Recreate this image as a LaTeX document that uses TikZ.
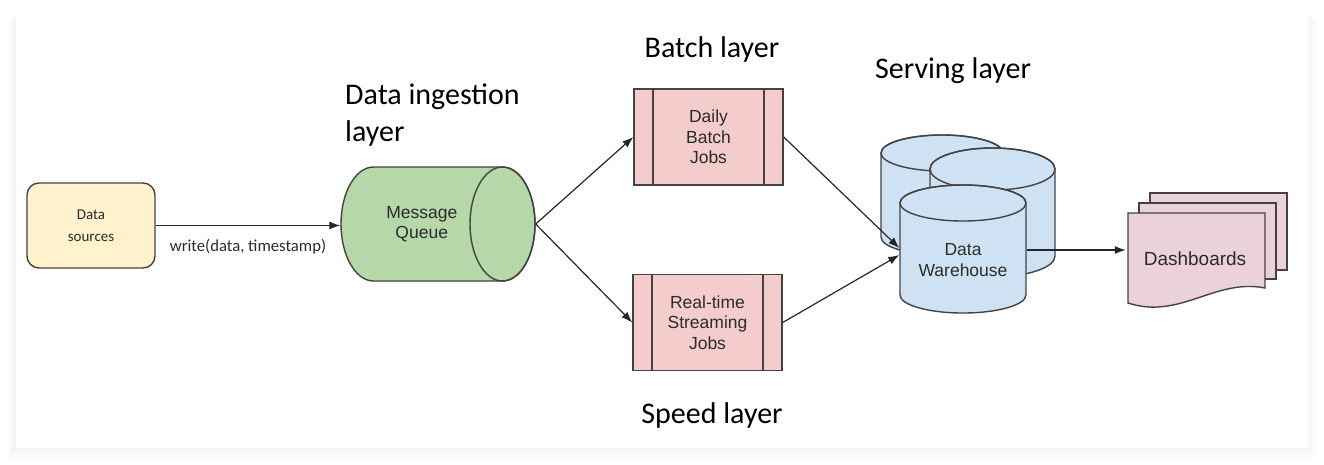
\documentclass[tikz,border=0pt]{standalone}
\usepackage{fontspec}
\setmainfont{Carlito}
\newfontfamily\arialfont{Liberation Sans}
\usetikzlibrary{shapes.geometric,arrows.meta,positioning,calc}

\definecolor{srcfill}{HTML}{FFF2CC}
\definecolor{mqfill}{HTML}{B6D7A8}
\definecolor{jobfill}{HTML}{F4CCCC}
\definecolor{dwfill}{HTML}{CFE2F3}
\definecolor{dashfill}{HTML}{EAD1DC}
\definecolor{edge}{HTML}{434343}
\definecolor{txt}{HTML}{2B2B2B}

% upright cylinder: centre x, top ellipse y, bottom ellipse y, x radius, y radius
\newcommand{\dbcyl}[5]{%
    \filldraw[shapeline, fill=dwfill] (#1-#4,#2) -- (#1-#4,#3)
        arc[start angle=180, end angle=0, x radius=#4, y radius=#5] -- (#1+#4,#2)
        arc[start angle=0, end angle=-180, x radius=#4, y radius=#5] -- cycle;
    \draw[shapeline] (#1,#2) ellipse [x radius=#4, y radius=#5];
}

\begin{document}
\begin{tikzpicture}[
    x=1pt, y=-1pt,
    shapeline/.style={draw=edge, line width=1.4pt},
    box/.style={shapeline, text=txt, align=center, inner sep=0pt,
        font=\arialfont\fontsize{17.5}{20.5}\selectfont},
    source/.style={box, rectangle, rounded corners=12pt, fill=srcfill,
        minimum width=128pt, minimum height=85pt, font=\fontsize{15}{22}\selectfont},
    job/.style={box, rectangle, fill=jobfill, minimum width=149pt, minimum height=96pt,
        path picture={
            \draw[shapeline]
                ([xshift=19pt]path picture bounding box.north west) -- ([xshift=19pt]path picture bounding box.south west)
                ([xshift=-19pt]path picture bounding box.north east) -- ([xshift=-19pt]path picture bounding box.south east);}},
    textonly/.style={box, draw=none, rectangle},
    sheet/.style={shapeline, fill=dashfill},
    layer/.style={font=\fontsize{30}{37}\selectfont, text=black, inner sep=0pt},
    arrow/.style={-{Latex[length=11pt,width=8pt]}, line width=1.2pt, draw=black!85}
]
    % Card
    \fill[white] (0,0) rectangle (1324,464);
    \useasboundingbox (0,0) rectangle (1324,464);
    \fill[black!2] (9,19) rectangle (1316,458);
    \fill[black!4] (12,17) rectangle (1312,453);
    \fill[white] (16,15) rectangle (1308,448);

    % Layer titles
    \node[layer, anchor=base west, align=left] (ingestlbl) at (345,141) {Data ingestion\\layer};
    \node[layer, anchor=base] (batchlbl) at (712,57) {Batch layer};
    \node[layer, anchor=base] (servelbl) at (953,78) {Serving layer};
    \node[layer, anchor=base] (speedlbl) at (712,423) {Speed layer};

    % Source
    \node[source] (src) at (91,225.5) {Data\\sources};

    % Message queue (lying cylinder)
    \filldraw[shapeline, fill=mqfill] (502.5,167) -- (373.5,167)
        arc[start angle=270, end angle=90, x radius=32.5, y radius=57] -- (502.5,281)
        arc[start angle=90, end angle=-90, x radius=32.5, y radius=57] -- cycle;
    \draw[shapeline] (502.5,224) ellipse [x radius=32.5, y radius=57];
    \node[textonly, minimum width=161.5pt, minimum height=114pt] (mq) at (421.75,224) {Message\\Queue};

    % Jobs
    \node[job] (batch) at (708.5,137) {Daily\\Batch\\Jobs};
    \node[job] (stream) at (707.5,322.5) {Real-time\\Streaming\\Jobs};

    % Warehouse
    \dbcyl{942}{153}{237}{61}{18}
    \dbcyl{992.5}{169}{256}{62.5}{21}
    \dbcyl{963}{203}{295}{63}{18}
    \node[textonly, minimum width=126pt, minimum height=106pt] (dw) at (963,260) {Data\\Warehouse};

    % Dashboards
    \draw[sheet] (1150,193) rectangle (1287,270);
    \draw[sheet] (1139,203) rectangle (1276,279);
    \draw[sheet] (1128,213) -- (1265,213) -- (1265,288)
        .. controls (1215,278) and (1180,320) .. (1128,303) -- cycle;
    \node[textonly, font=\arialfont\fontsize{19}{22}\selectfont, minimum width=137pt, minimum height=90pt] (dash) at (1195,259) {Dashboards};

    % Arrows
    \draw[arrow] (src.east) -- (src.east -| mq.west)
        node[midway, yshift=-21pt, text=txt, font=\fontsize{16.7}{19}\selectfont] (writelbl) {write(data, timestamp)};
    \draw[arrow] ([xshift=32.5pt]mq.east) -- (batch.west);
    \draw[arrow] ([xshift=32.5pt]mq.east) -- (stream.west);
    \draw[arrow] (batch.east) -- ([yshift=12pt]dw.west);
    \draw[arrow] (stream.east) -- ([yshift=5pt]dw.west);
    \draw[arrow] ([yshift=10pt]dw.east) -- ([yshift=10pt]dw.east -| dash.west);
\end{tikzpicture}
\end{document}
